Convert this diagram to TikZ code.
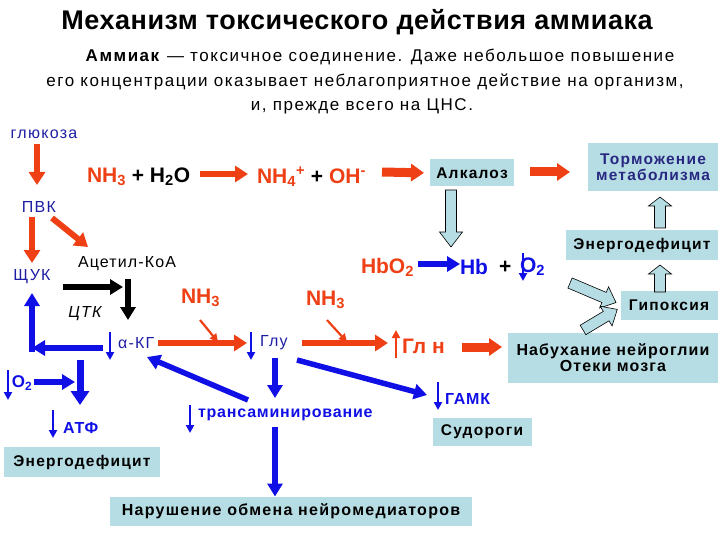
\documentclass[tikz,border=0pt]{standalone}
\usepackage{fontspec}
\setmainfont{Liberation Sans}
\usetikzlibrary{arrows.meta}
\definecolor{ored}{RGB}{238,64,20}
\definecolor{bl}{RGB}{15,15,230}
\definecolor{dbl}{RGB}{30,30,165}
\definecolor{boxc}{RGB}{183,221,228}
\definecolor{tbl}{RGB}{40,40,130}
\newcommand{\fs}[1]{\fontsize{#1}{#1}\selectfont}
\newcommand{\ls}[1]{\addfontfeature{LetterSpace=#1}}
\newcommand{\holarrow}[6]{% name, x, y, angle, length, headlength
 \begin{scope}[shift={(#2,#3)}, rotate=#4]
   \filldraw[fill=boxc, draw=black, line width=0.6pt] (0,-5.5) -- (#5-#6,-5.5) -- (#5-#6,-11.5) -- (#5,0) -- (#5-#6,11.5) -- (#5-#6,5.5) -- (0,5.5) -- cycle;
   \coordinate (#1) at (#5,0);
 \end{scope}}
\begin{document}
\begin{tikzpicture}[x=1pt,y=-1pt,
  every node/.style={inner sep=0pt, outer sep=0pt},
  oarr/.style={draw=ored, line width=6pt, -{Triangle[length=13pt,width=16pt]}},
  oarrb/.style={draw=ored, line width=9pt, -{Triangle[length=13pt,width=17pt]}},
  barr/.style={draw=bl, line width=5.5pt, -{Triangle[length=13pt,width=15pt]}},
  karr/.style={draw=black, line width=5.5pt, -{Triangle[length=13pt,width=15pt]}},
  tbarr/.style={draw=bl, line width=2pt, -{Triangle[length=8pt,width=8pt]}},
  toarr/.style={draw=ored, line width=2.2pt, -{Triangle[length=8pt,width=8pt]}},
  box/.style={fill=boxc, font=\bfseries\fs{15.5}\ls{8}, align=center},
  lbl/.style={font=\fs{16}\ls{8}, text=dbl},
  blbl/.style={font=\bfseries\fs{16}\ls{5}, text=bl, anchor=west},
  frm/.style={font=\bfseries\fs{21}, anchor=west},
  ]
\useasboundingbox (0,0) rectangle (720,540);
% title and text
\node[font=\bfseries\fs{27}\ls{2}] (title) at (357,22) {Механизм токсического действия аммиака};
\node[font=\fs{17}\ls{9}] (p1) at (380,57) {\textbf{Аммиак} — токсичное соединение. Даже небольшое повышение};
\node[font=\fs{17}\ls{9}] (p2) at (365,82) {его концентрации оказывает неблагоприятное действие на организм,};
\node[font=\fs{17}\ls{9}] (p3) at (362,106) {и, прежде всего на ЦНС.};
% left chain
\node[lbl] (glu) at (44,134) {глюкоза};
\node[lbl] (pvk) at (39,207) {ПВК};
\node[lbl] (shuk) at (32,277) {ЩУК};
\node[font=\fs{16}\ls{7}] (acoa) at (127,264) {Ацетил-КоА};
\node[font=\itshape\fs{16}\ls{7}] (ctk) at (85,314) {ЦТК};
\node[lbl, anchor=west] (akg) at (118,343) {α-КГ};
\node[lbl, anchor=west] (glut) at (260,343) {Глу};
\node[font=\bfseries\fs{21}, text=ored, anchor=west] (gln) at (402,346) {Гл н};
\node[blbl, font=\bfseries\fs{17}] (o2l) at (12,383) {O\textsubscript{2}};
\node[blbl] (atf) at (63,428) {АТФ};
\node[blbl] (gamk) at (445,399) {ГАМК};
\node[blbl] (trans) at (198,415) {трансаминирование};
% formulas
\node[frm] (nh3) at (87,177) {\textcolor{ored}{NH\textsubscript{3}} + H\textsubscript{2}O};
\node[frm, text=ored] (nh4) at (257,177) {NH\textsubscript{4}\textsuperscript{+} \textcolor{black}{+} OH\textsuperscript{-}};
\node[frm, text=ored] (nh3a) at (181,298) {NH\textsubscript{3}};
\node[frm, text=ored] (nh3b) at (306,300) {NH\textsubscript{3}};
\node[frm, text=ored] (hbo2) at (361,267) {HbO\textsubscript{2}};
\node[frm, text=bl] (hb) at (460,267) {Hb};
\node[frm] (plus) at (499,267) {+};
\node[frm, text=bl] (o2r) at (520,267) {O\textsubscript{2}};
% boxes
\node[box, minimum width=84pt, minimum height=27pt] (alk) at (472,173) {Алкалоз};
\node[box, minimum width=130pt, minimum height=48pt, text=tbl] (torm) at (653,167) {Торможение\\метаболизма};
\node[box, minimum width=152pt, minimum height=30pt] (enr) at (642,245) {Энергодефицит};
\node[box, minimum width=97pt, minimum height=29pt] (gip) at (669,305) {Гипоксия};
\node[box, minimum width=210pt, minimum height=50pt, font=\bfseries\fs{16}\ls{7}] (nab) at (613,358) {Набухание нейроглии\\Отеки мозга};
\node[box, minimum width=99pt, minimum height=28pt] (sud) at (482,432) {Судороги};
\node[box, minimum width=156pt, minimum height=30pt] (enl) at (82,462) {Энергодефицит};
\node[box, minimum width=362pt, minimum height=29pt, font=\bfseries\fs{16}\ls{8}] (nar) at (291,511) {Нарушение обмена нейромедиаторов};
% left arrows
\draw[oarr] (glu.south -| 37,0) ++(0,6) -- (37,185);
\draw[oarr] (32,217) -- (32,263);
\draw[oarr] (52,218) -- (88,247);
\draw[karr] (63,287) -- (123,287);
\draw[karr] (128,279) -- (128,320);
\draw[barr] (103,348) -- (32,348);
\draw[barr] (32,352) -- (32,293);
\draw[barr, line width=7pt, -{Triangle[length=14pt,width=18pt]}] (80,360) -- (80,405);
\draw[barr] (o2l.east) ++(2,-1) -- (75,382);
\draw[tbarr] (110,332) -- (110,360);
\draw[tbarr] (251,332) -- (251,360);
\draw[toarr] (396,358) -- (396,330);
\draw[tbarr] (8,370) -- (8,400);
\draw[tbarr] (53,410) -- (53,438);
\draw[tbarr] (438,382) -- (438,410);
\draw[tbarr] (190,405) -- (190,433);
\draw[tbarr] (523,253) -- (523,281);
% middle arrows
\draw[oarr] (158,343) -- (247,343);
\draw[toarr] (200,320) -- (218,342);
\draw[oarr] (302,343) -- (388,343);
\draw[toarr] (327,320) -- (347,342);
\draw[oarrb] (462,347) -- (502,347);
\draw[barr] (248,400) -- (147,357);
\draw[barr] (275,358) -- (275,398);
\draw[barr] (275,427) -- (nar.north -| 275,0);
\draw[barr] (297,360) -- (427,395);
\draw[oarr] (200,174) -- (248,174);
\draw[oarrb, shorten >=6pt] (382,172) -- (alk.west);
\draw[oarrb] (530,172) -- (570,172);
\draw[barr] (hbo2.east) ++(4,-3) -- (hb.west |- 0,264);
% hollow arrows
\holarrow{h1}{451}{190}{-90}{57}{15}
\holarrow{h2}{660}{228}{90}{31}{9}
\holarrow{h3}{660}{292}{90}{27}{9}
\holarrow{h4}{570}{283}{-23}{50}{13}
\holarrow{h5}{583}{330}{31}{40}{13}
\end{tikzpicture}
\end{document}
